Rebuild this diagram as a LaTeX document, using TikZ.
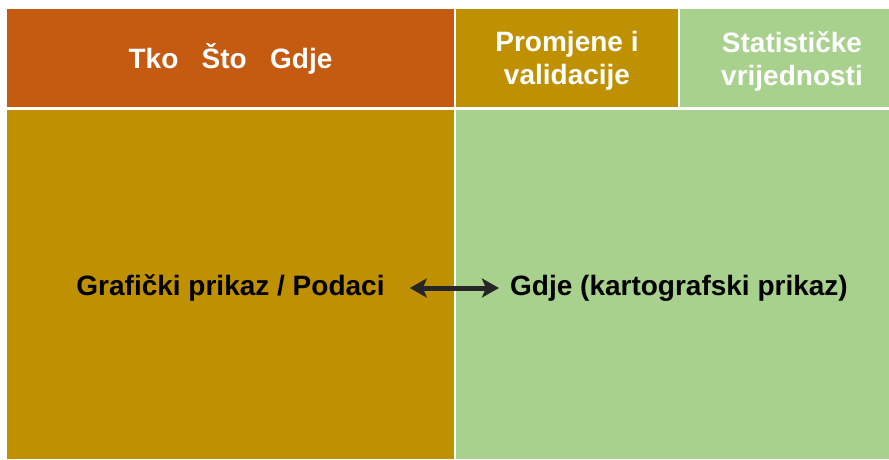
\documentclass[tikz,border=0pt]{standalone}
\usepackage{fontspec}
\setmainfont{Liberation Sans}
\usetikzlibrary{arrows.meta}
\definecolor{rust}{HTML}{C55A11}
\definecolor{ochre}{HTML}{BF9000}
\definecolor{sage}{HTML}{A9D18E}
\tikzset{
  headtext/.style={text=white, font=\fontsize{28}{33}\selectfont\bfseries, align=center, inner sep=0pt},
  bodytext/.style={text=black, font=\fontsize{28}{33}\selectfont\bfseries, inner sep=0pt},
}
\begin{document}
\begin{tikzpicture}[x=1pt,y=-1pt]
\useasboundingbox (0,0) rectangle (889,459);
\fill[white] (0,0) rectangle (889,459);

% header row
\fill[rust] (7,9) rectangle (454,107);
\fill[ochre] (456,9) rectangle (678,107);
\fill[sage] (680,9) rectangle (889,107);

% body
\fill[ochre] (7,110) rectangle (454,459);
\fill[sage] (456,110) rectangle (889,459);

\node[headtext] (who) at (230.5,59) {Tko\ \ \ Što\ \ \ Gdje};
\node[headtext] (changes) at (567,61) {Promjene i\\validacije};
\node[headtext] (stats) at (792,61) {Statističke\\vrijednosti};

\node[bodytext] (graph) at (230.5,288) {Grafički prikaz / Podaci};
\node[bodytext] (where) at (679,288) {Gdje (kartografski prikaz)};

\draw[line width=5pt, color=black!85, {Stealth[length=17pt,width=19pt,inset=4pt]}-{Stealth[length=17pt,width=19pt,inset=4pt]},
  shorten <=25pt, shorten >=11pt] (graph.east) -- (where.west);
\end{tikzpicture}
\end{document}
